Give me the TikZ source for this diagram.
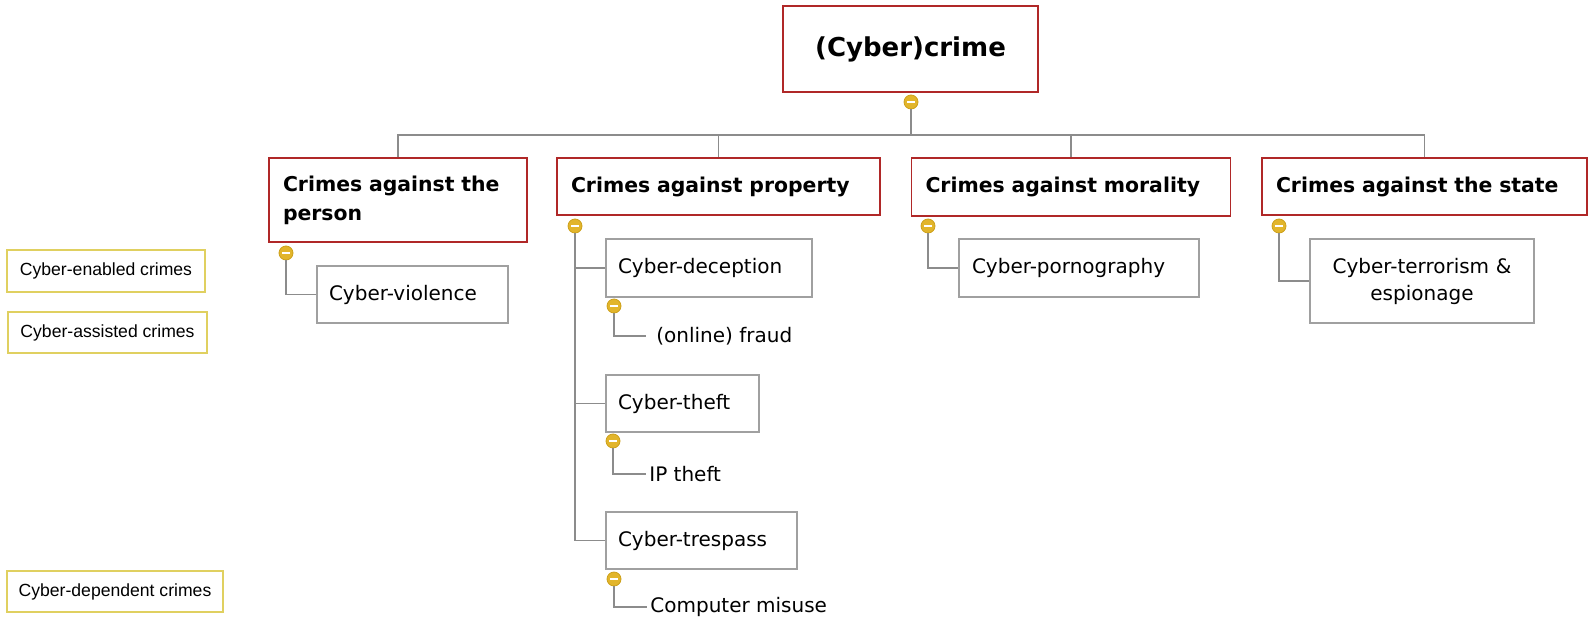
\documentclass[tikz,border=0pt]{standalone}
\usepackage{fontspec}
\setmainfont{DejaVu Sans}
\newfontfamily\legendfont{Liberation Sans}
\definecolor{hdred}{RGB}{176,40,40}
\definecolor{boxgray}{RGB}{160,160,160}
\definecolor{linegray}{RGB}{140,140,140}
\definecolor{gold}{RGB}{226,181,43}
\definecolor{golddark}{RGB}{205,160,25}
\definecolor{legendyel}{RGB}{224,208,96}
\begin{document}
\begin{tikzpicture}[x=0.5pt, y=-0.5pt,
  rootbox/.style={draw=hdred, line width=0.7pt, inner sep=0pt, align=center, font=\fontsize{13pt}{16pt}\selectfont\bfseries},
  headbox/.style={draw=hdred, line width=0.7pt, inner ysep=0pt, inner xsep=7pt, align=left, font=\fontsize{10.2pt}{14.5pt}\selectfont\bfseries},
  subbox/.style={draw=boxgray, line width=0.6pt, inner ysep=0pt, inner xsep=6pt, align=left, font=\fontsize{10pt}{13.5pt}\selectfont},
  leaf/.style={anchor=west, inner ysep=1pt, font=\fontsize{10pt}{13.5pt}\selectfont},
  legend/.style={draw=legendyel, line width=0.7pt, inner sep=0pt, align=center, font=\legendfont\fontsize{8.8pt}{11pt}\selectfont},
  toggle/.style={shape=circle, fill=gold, draw=golddark, line width=0.4pt, minimum size=7pt, inner sep=0pt,
    path picture={\draw[white, line width=0.6pt] ([xshift=-2pt]path picture bounding box.center) -- ([xshift=2pt]path picture bounding box.center);}},
  conn/.style={draw=linegray, line width=0.85pt}]
\useasboundingbox (0,0) rectangle (1595,627);

% root and top level
\node[rootbox, minimum width=127.5pt, minimum height=43pt] (root) at (910.5,49) {(Cyber)crime};
\node[toggle] (c0) at (911,102) {};
\coordinate (bus) at (911,135);
\node[headbox, minimum width=129pt, minimum height=42pt, text width=115pt] (person) at (398,200) {Crimes against the\\person};
\node[headbox, minimum width=161.5pt, minimum height=28.5pt, text width=147.5pt] (property) at (718.5,186.5) {Crimes against property};
\node[headbox, minimum width=159.5pt, minimum height=29pt, text width=145.5pt] (morality) at (1071,187) {Crimes against morality};
\node[headbox, minimum width=162.5pt, minimum height=28.5pt, text width=148.5pt, inner xsep=7pt] (state) at (1424.5,186.5) {Crimes against the state};

\node[toggle] (cA) at (286,253) {};
\node[toggle] (cB) at (575,226) {};
\node[toggle] (cC) at (928,226) {};
\node[toggle] (cD) at (1279,226) {};

% second level
\node[subbox, minimum width=95.5pt, minimum height=28.5pt, text width=83.5pt] (violence) at (412.5,294.5) {Cyber-violence};
\node[subbox, minimum width=103pt, minimum height=29pt, text width=91pt] (deception) at (709,268) {Cyber-deception};
\node[subbox, minimum width=76.5pt, minimum height=28.5pt, text width=64.5pt] (theft) at (682.5,403.5) {Cyber-theft};
\node[subbox, minimum width=95.5pt, minimum height=28.5pt, text width=83.5pt] (trespass) at (701.5,540.5) {Cyber-trespass};
\node[subbox, minimum width=120pt, minimum height=29pt, text width=107pt, inner xsep=6.5pt] (porn) at (1079,268) {Cyber-pornography};
\node[subbox, minimum width=112pt, minimum height=42pt, text width=100pt, align=center] (terror) at (1422,281) {Cyber-terrorism \&\\espionage};

\node[toggle] (cF) at (614,306) {};
\node[toggle] (cI) at (613,441) {};
\node[toggle] (cM) at (614,579) {};

% leaves
\node[leaf, inner xsep=5pt] (fraud) at (646,336) {(online) fraud};
\node[leaf, inner xsep=1.5pt] (ip) at (646,474) {IP theft};
\node[leaf, inner xsep=1.5pt] (misuse) at (647,607) {Computer misuse};

% legend
\node[legend, minimum width=99pt, minimum height=21pt] (enabled) at (106,271) {Cyber-enabled crimes};
\node[legend, minimum width=99.5pt, minimum height=20.5pt] (assisted) at (107.5,332.5) {Cyber-assisted crimes};
\node[legend, minimum width=108pt, minimum height=20.5pt] (dependent) at (115,591.5) {Cyber-dependent crimes};

% connectors
\draw[conn] (c0) -- (bus);
\draw[conn] (person) |- (bus) -| (state);
\draw[conn] (bus) -| (property);
\draw[conn] (bus) -| (morality);
\draw[conn] (cA) |- (violence);
\draw[conn] (cB) |- (deception);
\draw[conn] (cB) |- (theft);
\draw[conn] (cB) |- (trespass);
\draw[conn] (cC) |- (porn);
\draw[conn] (cD) |- (terror);
\draw[conn] (cF) |- (fraud.west);
\draw[conn] (cI) |- (ip.west);
\draw[conn] (cM) |- (misuse.west);
\end{tikzpicture}
\end{document}
